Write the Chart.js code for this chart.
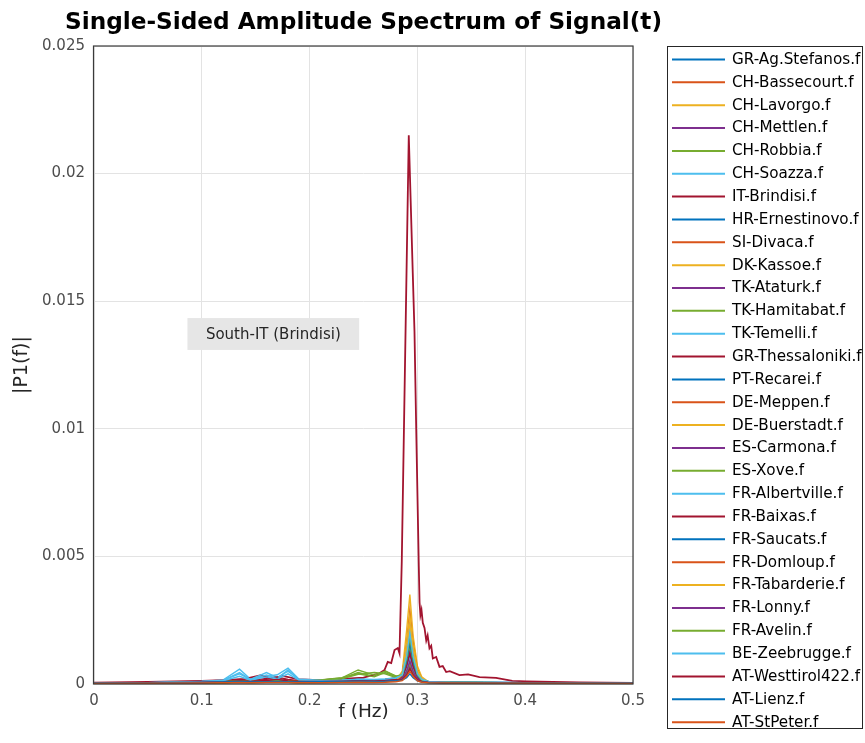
<!DOCTYPE html>
<html><head><meta charset="utf-8">
<script src="https://cdn.jsdelivr.net/npm/chart.js@4.4.1/dist/chart.umd.min.js"></script>
<style>html,body{margin:0;padding:0;background:#fff;}canvas{display:block;}</style>
</head><body>
<canvas id="c" width="865" height="743"></canvas>
<script>
const chartTitle = 'Single-Sided Amplitude Spectrum of Signal(t)';
const seriesNames = ['GR-Ag.Stefanos.f','CH-Bassecourt.f','CH-Lavorgo.f','CH-Mettlen.f','CH-Robbia.f','CH-Soazza.f','IT-Brindisi.f','HR-Ernestinovo.f','SI-Divaca.f','DK-Kassoe.f','TK-Ataturk.f','TK-Hamitabat.f','TK-Temelli.f','GR-Thessaloniki.f','PT-Recarei.f','DE-Meppen.f','DE-Buerstadt.f','ES-Carmona.f','ES-Xove.f','FR-Albertville.f','FR-Baixas.f','FR-Saucats.f','FR-Domloup.f','FR-Tabarderie.f','FR-Lonny.f','FR-Avelin.f','BE-Zeebrugge.f','AT-Westtirol422.f','AT-Lienz.f','AT-StPeter.f'];
const palette = ['#0072BD','#D95319','#EDB120','#7E2F8E','#77AC30','#4DBEEE','#A2142F'];

// shared frequency grid (Hz) for the 29 smaller spectra
const freqGrid = [0,0.05,0.1,0.12,0.135,0.145,0.16,0.17,0.18,0.19,0.21,0.23,0.245,0.26,0.27,0.28,0.286,0.29,0.293,0.296,0.3,0.304,0.31,0.33,0.4,0.5];

const s01 = [0.00003,0.00004,0.00008,0.0001,0.00016,0.0001,0.00013,0.00016,0.00012,0.0001,0.0001,0.00012,0.00015,0.00013,0.00016,0.0002,0.00025,0.0007,0.0012,0.00065,0.00025,0.00012,0.00009,0.00007,0.00005,0.00003];
const s02 = [0.00002,0.00003,0.00004,0.00005,0.00007,0.00006,0.00007,0.00008,0.00007,0.00006,0.00006,0.00007,0.00009,0.00008,0.00009,0.00013,0.0004,0.0016,0.0029,0.0017,0.0006,0.00022,0.00008,0.00005,0.00003,0.00002];
const s03 = [0.00002,0.00003,0.00004,0.00005,0.00008,0.00006,0.00007,0.00009,0.00007,0.00006,0.00007,0.00008,0.0001,0.00009,0.0001,0.00014,0.0005,0.0021,0.0035,0.0019,0.0007,0.00028,0.0001,0.00005,0.00003,0.00002];
const s04 = [0.00003,0.00004,0.00006,0.00008,0.00011,0.00009,0.0001,0.00012,0.0001,0.00008,0.00009,0.0001,0.00012,0.00011,0.00013,0.00016,0.00022,0.0006,0.0011,0.0006,0.00024,0.00011,0.00008,0.00006,0.00004,0.00003];
const s05 = [0.00003,0.00004,0.00007,0.0001,0.00014,0.0001,0.00012,0.00014,0.00012,0.0001,0.00014,0.00022,0.00045,0.0003,0.00052,0.0003,0.0003,0.0009,0.0016,0.0009,0.0003,0.00014,0.0001,0.00007,0.00004,0.00003];
const s06 = [0.00003,0.00005,0.0001,0.00016,0.00058,0.0002,0.0003,0.00036,0.00062,0.0002,0.00015,0.00016,0.0002,0.00018,0.0002,0.00025,0.0003,0.0011,0.0019,0.0011,0.0004,0.00018,0.0001,0.00008,0.00005,0.00003];
const s08 = [0.00003,0.00004,0.00007,0.00009,0.00013,0.00009,0.00011,0.00013,0.00011,0.00009,0.0001,0.00011,0.00013,0.00012,0.00014,0.00018,0.0002,0.0005,0.0009,0.0005,0.0002,0.0001,0.00008,0.00006,0.00004,0.00003];
const s09 = [0.00002,0.00003,0.00005,0.00006,0.00008,0.00007,0.00008,0.00009,0.00008,0.00007,0.00007,0.00008,0.0001,0.00009,0.0001,0.00014,0.0004,0.0015,0.0026,0.0015,0.00055,0.0002,0.00008,0.00005,0.00003,0.00002];
const s10 = [0.00002,0.00003,0.00005,0.00006,0.00009,0.00007,0.00008,0.0001,0.00008,0.00007,0.00008,0.00009,0.0001,0.00009,0.00011,0.00014,0.00018,0.00045,0.0008,0.00045,0.00018,0.00009,0.00006,0.00005,0.00003,0.00002];
const s11 = [0.00003,0.00004,0.00008,0.0001,0.00014,0.0001,0.00013,0.00015,0.00012,0.0001,0.00011,0.00013,0.00016,0.00014,0.00017,0.0002,0.0002,0.0004,0.0007,0.0004,0.00018,0.0001,0.00008,0.00006,0.00004,0.00003];
const s12 = [0.00003,0.00004,0.00008,0.0001,0.00015,0.00011,0.00013,0.00015,0.00013,0.00011,0.00016,0.00025,0.0004,0.00028,0.00045,0.00028,0.00022,0.00045,0.0008,0.00045,0.0002,0.00011,0.00008,0.00006,0.00004,0.00003];
const s13 = [0.00003,0.00005,0.0001,0.00015,0.0004,0.00018,0.00045,0.00025,0.0005,0.00018,0.00014,0.00015,0.00018,0.00016,0.00018,0.00022,0.00024,0.0006,0.001,0.0006,0.00025,0.00013,0.00009,0.00007,0.00005,0.00003];
const s14 = [0.00003,0.00005,0.0001,0.00013,0.00018,0.00014,0.00022,0.00028,0.00018,0.00013,0.00012,0.00014,0.00017,0.00015,0.00018,0.00024,0.00035,0.001,0.0017,0.001,0.0004,0.00018,0.0001,0.00007,0.00005,0.00003];
const s15 = [0.00003,0.00004,0.00007,0.00009,0.00012,0.00009,0.00011,0.00012,0.0001,0.00009,0.0001,0.00012,0.00014,0.00013,0.00015,0.00019,0.00028,0.0008,0.0014,0.0008,0.0003,0.00013,0.00008,0.00006,0.00004,0.00003];
const s16 = [0.00002,0.00003,0.00005,0.00006,0.00008,0.00007,0.00008,0.00009,0.00008,0.00007,0.00008,0.00009,0.0001,0.00009,0.00011,0.00014,0.00035,0.0012,0.0021,0.0012,0.00045,0.00018,0.00008,0.00005,0.00003,0.00002];
const s17 = [0.00002,0.00003,0.00005,0.00006,0.00008,0.00006,0.00008,0.00009,0.00007,0.00006,0.00007,0.00008,0.0001,0.00009,0.0001,0.00014,0.00042,0.0016,0.0027,0.0015,0.00055,0.00022,0.00009,0.00005,0.00003,0.00002];
const s18 = [0.00003,0.00004,0.00006,0.00008,0.00011,0.00009,0.0001,0.00011,0.0001,0.00008,0.00009,0.0001,0.00012,0.00011,0.00013,0.00017,0.00026,0.00075,0.0013,0.0007,0.00028,0.00012,0.00008,0.00006,0.00004,0.00003];
const s19 = [0.00003,0.00004,0.00007,0.0001,0.00013,0.0001,0.00012,0.00013,0.00012,0.0001,0.00013,0.0002,0.00038,0.00045,0.0004,0.00025,0.00028,0.00085,0.0015,0.00085,0.0003,0.00014,0.00009,0.00007,0.00004,0.00003];
const s20 = [0.00003,0.00005,0.0001,0.00014,0.00045,0.00018,0.00035,0.00022,0.00055,0.00017,0.00014,0.00015,0.00019,0.00016,0.00019,0.00024,0.0004,0.0013,0.0022,0.0012,0.00045,0.0002,0.0001,0.00008,0.00005,0.00003];
const s21 = [0.00003,0.00004,0.00008,0.0001,0.00014,0.00011,0.00018,0.00024,0.00015,0.00011,0.0001,0.00012,0.00014,0.00013,0.00015,0.0002,0.00025,0.0007,0.0012,0.0007,0.00026,0.00012,0.00008,0.00006,0.00004,0.00003];
const s22 = [0.00003,0.00004,0.00007,0.00009,0.00012,0.00009,0.00011,0.00012,0.0001,0.00009,0.0001,0.00012,0.00014,0.00013,0.00015,0.00019,0.0003,0.0009,0.0016,0.0009,0.00033,0.00014,0.00008,0.00006,0.00004,0.00003];
const s23 = [0.00002,0.00003,0.00005,0.00006,0.00008,0.00007,0.00008,0.00009,0.00008,0.00007,0.00008,0.00009,0.0001,0.00009,0.00011,0.00014,0.00033,0.0011,0.0019,0.0011,0.0004,0.00016,0.00008,0.00005,0.00003,0.00002];
const s24 = [0.00002,0.00003,0.00005,0.00006,0.00008,0.00007,0.00008,0.00009,0.00008,0.00007,0.00008,0.00009,0.0001,0.00009,0.00011,0.00014,0.00038,0.0013,0.0023,0.0013,0.0005,0.0002,0.00008,0.00005,0.00003,0.00002];
const s25 = [0.00003,0.00004,0.00006,0.00008,0.00011,0.00009,0.0001,0.00011,0.0001,0.00008,0.00009,0.0001,0.00012,0.00011,0.00013,0.00016,0.0002,0.0005,0.0009,0.0005,0.0002,0.0001,0.00007,0.00005,0.00004,0.00003];
const s26 = [0.00003,0.00004,0.00007,0.0001,0.00013,0.0001,0.00012,0.00013,0.00012,0.0001,0.00015,0.00024,0.00055,0.00035,0.0005,0.00032,0.00035,0.001,0.0018,0.001,0.00036,0.00015,0.0001,0.00007,0.00004,0.00003];
const s27 = [0.00003,0.00005,0.0001,0.00013,0.0003,0.00015,0.00028,0.0002,0.0004,0.00015,0.00013,0.00014,0.00017,0.00015,0.00017,0.00022,0.00036,0.0011,0.002,0.0011,0.0004,0.00018,0.0001,0.00007,0.00005,0.00003];
const s28 = [0.00003,0.00004,0.00007,0.00009,0.00012,0.0001,0.00014,0.00018,0.00012,0.0001,0.0001,0.00011,0.00013,0.00012,0.00014,0.00017,0.00018,0.00035,0.0006,0.00035,0.00016,0.0001,0.00007,0.00005,0.00004,0.00003];
const s29 = [0.00003,0.00004,0.00006,0.00008,0.0001,0.00008,0.00009,0.0001,0.00009,0.00008,0.00009,0.0001,0.00011,0.0001,0.00011,0.00013,0.00015,0.00025,0.0004,0.00025,0.00012,0.00008,0.00006,0.00005,0.00004,0.00003];
const s30 = [0.00002,0.00003,0.00004,0.00005,0.00006,0.00005,0.00006,0.00006,0.00006,0.00005,0.00005,0.00006,0.00007,0.00006,0.00007,0.00009,0.00013,0.0003,0.0005,0.0003,0.00012,0.00007,0.00005,0.00004,0.00003,0.00002];

// IT-Brindisi: dominant spectrum, on its own frequency points
const freqBrindisi = [0,0.05,0.1,0.12,0.14,0.155,0.165,0.175,0.19,0.21,0.23,0.25,0.2648,0.2695,0.2725,0.2757,0.2788,0.2818,0.2834,0.2855,0.292,0.2957,0.2973,0.2989,0.3013,0.302,0.3028,0.3038,0.305,0.3066,0.3082,0.3095,0.3112,0.3128,0.3143,0.3174,0.3205,0.3235,0.3267,0.33,0.339,0.347,0.3576,0.373,0.388,0.401,0.45,0.5];
const valBrindisi  = [0.00005,0.00008,0.00012,0.00015,0.0002,0.00035,0.0002,0.00032,0.00018,0.00015,0.0002,0.00025,0.00042,0.00055,0.00087,0.00082,0.00133,0.00141,0.0012,0.0048,0.0215,0.0161,0.0138,0.01,0.0046,0.0032,0.0027,0.0029,0.0024,0.0022,0.0017,0.0019,0.0014,0.0015,0.001,0.00106,0.00067,0.0007,0.00047,0.0005,0.00035,0.00038,0.00027,0.00024,0.00012,0.0001,0.00006,0.00004];

const xTickLabels = ['0','0.1','0.2','0.3','0.4','0.5'];
const yTickLabels = ['0','0.005','0.01','0.015','0.02','0.025'];

const smallSeries = [s01,s02,s03,s04,s05,s06,null,s08,s09,s10,s11,s12,s13,s14,s15,s16,s17,s18,s19,s20,s21,s22,s23,s24,s25,s26,s27,s28,s29,s30];

const datasets = seriesNames.map((name, i) => {
  const xs = i === 6 ? freqBrindisi : freqGrid;
  const ys = i === 6 ? valBrindisi : smallSeries[i];
  return {
    label: name,
    data: xs.map((x, k) => ({x: x, y: ys[k]})),
    borderColor: palette[i % 7],
    backgroundColor: palette[i % 7],
    borderWidth: i === 6 ? 1.8 : 1.4,
    pointRadius: 0,
    tension: 0,
    fill: false,
    order: 30 - i
  };
});

const FONT = 'DejaVu Sans';

const decorPlugin = {
  id: 'decor',
  afterDraw(chart) {
    const ctx = chart.ctx;
    const a = chart.chartArea;
    const xs = chart.scales.x, ys = chart.scales.y;
    const opt = chart.options.plugins.decor;
    ctx.save();
    // title, centred over the axes
    ctx.fillStyle = '#000000';
    ctx.font = 'bold 23.2px "' + FONT + '"';
    ctx.textAlign = 'center';
    ctx.textBaseline = 'middle';
    ctx.fillText(opt.title, (a.left + a.right) / 2, 23);
    // axes box
    ctx.strokeStyle = '#3a3a3a';
    ctx.lineWidth = 1.2;
    ctx.strokeRect(a.left - 0.5, a.top, a.right - a.left + 0.5, a.bottom - a.top);
    // annotation
    const an = opt.note;
    const bx0 = xs.getPixelForValue(an.x0), bx1 = xs.getPixelForValue(an.x1);
    const by0 = ys.getPixelForValue(an.y1), by1 = ys.getPixelForValue(an.y0);
    ctx.fillStyle = '#e6e6e6';
    ctx.fillRect(bx0, by0, bx1 - bx0, by1 - by0);
    ctx.fillStyle = '#262626';
    ctx.font = '15px "' + FONT + '"';
    ctx.fillText(an.text, (bx0 + bx1) / 2, (by0 + by1) / 2 + 1);
    // legend
    const L = opt.legend;
    ctx.fillStyle = '#ffffff';
    ctx.fillRect(L.x, L.y, L.w, L.h);
    ctx.strokeStyle = '#262626';
    ctx.lineWidth = 1;
    ctx.strokeRect(L.x + 0.5, L.y + 0.5, L.w, L.h);
    ctx.font = '15.2px "' + FONT + '"';
    ctx.textAlign = 'left';
    chart.data.datasets.forEach((ds, i) => {
      const y = L.first + i * L.step;
      ctx.strokeStyle = ds.borderColor;
      ctx.lineWidth = 2;
      ctx.beginPath();
      ctx.moveTo(L.x + 5, y);
      ctx.lineTo(L.x + 58, y);
      ctx.stroke();
      ctx.fillStyle = '#000000';
      ctx.fillText(ds.label, L.x + 65, y + 0.5);
    });
    ctx.restore();
  }
};

new Chart(document.getElementById('c'), {
  type: 'line',
  data: { datasets: datasets },
  options: {
    responsive: false,
    animation: false,
    devicePixelRatio: 1,
    layout: { padding: { left: 0, right: 232, top: 46, bottom: 0 } },
    plugins: {
      legend: { display: false },
      tooltip: { enabled: false },
      title: { display: false },
      decor: {
        title: chartTitle,
        note: { text: 'South-IT (Brindisi)', x0: 0.0867, x1: 0.246, y0: 0.01309, y1: 0.01434 },
        legend: { x: 667, y: 46, w: 195, h: 682, first: 59.5, step: 22.85 }
      }
    },
    scales: {
      x: {
        type: 'linear',
        min: 0, max: 0.5,
        afterFit(s) { s.height = 59; },
        grid: { color: '#e3e3e3', lineWidth: 1, drawTicks: false },
        border: { display: false },
        ticks: {
          stepSize: 0.1, padding: 8, color: '#4d4d4d', maxRotation: 0,
          font: { family: FONT, size: 15 },
          callback: (v, i) => xTickLabels[i]
        },
        title: {
          display: true, text: 'f (Hz)', color: '#262626',
          font: { family: FONT, size: 18.5 },
          padding: { top: 0, bottom: 20 }
        }
      },
      y: {
        type: 'linear',
        min: 0, max: 0.025,
        afterFit(s) { s.width = 94; },
        grid: { color: '#e3e3e3', lineWidth: 1, drawTicks: false },
        border: { display: false },
        ticks: {
          stepSize: 0.005, padding: 9, color: '#4d4d4d',
          font: { family: FONT, size: 15 },
          callback: (v, i) => yTickLabels[i]
        },
        title: {
          display: true, text: '|P1(f)|', color: '#262626',
          font: { family: FONT, size: 19 },
          padding: { top: 11, bottom: 0 }
        }
      }
    }
  },
  plugins: [decorPlugin]
});
</script>
</body></html>
